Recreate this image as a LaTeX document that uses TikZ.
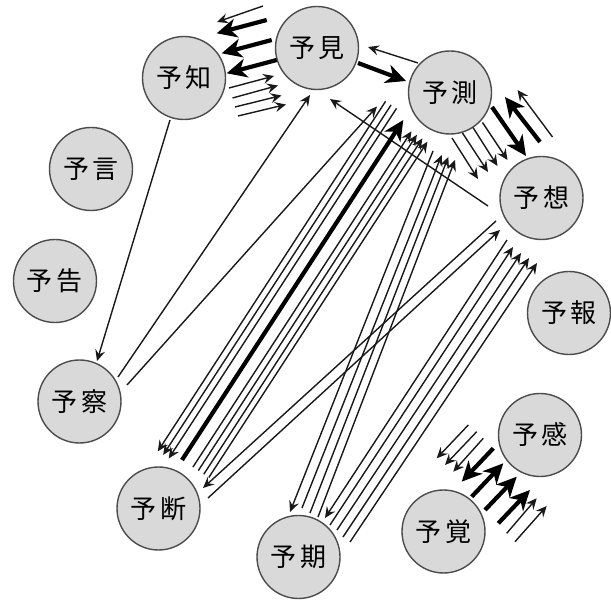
\documentclass[tikz,border=0pt]{standalone}
\usepackage{fontspec}
\newfontfamily\jp{Noto Sans CJK JP}
\usetikzlibrary{arrows.meta,calc}
\newcommand\edg[5][thinarr]{\draw[#1] ([shift={(#3)}]#2.center) -- ([shift={(#5)}]#4.center);}
\newcommand\yw[1]{予\kern4pt#1}
\begin{document}
\begin{tikzpicture}[x=1pt,y=-1pt,
  word/.style={circle,draw=black!70,line width=1.4pt,fill=black!15,minimum size=83pt,inner sep=0pt,font=\jp\fontsize{26}{28}\selectfont},
  thinarr/.style={draw=black!90,line width=1.4pt,-{Stealth[length=11pt,width=10pt,inset=4pt]}},
  thickarr/.style={draw=black,line width=4.2pt,-{Stealth[length=20pt,width=19pt,inset=6pt]}}]
\useasboundingbox (0,0) rectangle (611,601);
\node[word] (M) at (317,48) {\yw{見}};
\node[word] (C) at (184,78) {\yw{知}};
\node[word] (S) at (450,92.5) {\yw{測}};
\node[word] (G) at (91,169) {\yw{言}};
\node[word] (O) at (541.5,198) {\yw{想}};
\node[word] (K) at (55,281) {\yw{告}};
\node[word] (H) at (569,313) {\yw{報}};
\node[word] (Z) at (79.5,401.5) {\yw{察}};
\node[word] (N) at (540,435) {\yw{感}};
\node[word] (D) at (158.5,508.5) {\yw{断}};
\node[word] (A) at (443.5,531.5) {\yw{覚}};
\node[word] (Q) at (298.5,557) {\yw{期}};
% 見-知
\edg{M}{-54,-42}{C}{33,-56}
\edg[thickarr]{M}{-50.3,-28}{C}{32.7,-44.7}
\edg[thickarr]{M}{-45.3,-8}{C}{37.7,-24.7}
\edg[thickarr]{M}{-40.3,12}{C}{42.7,-4.7}
\edg{C}{45,10}{M}{-43,28}
\edg{C}{48.5,20}{M}{-39,37.5}
\edg{C}{51,29}{M}{-35.5,47.5}
\edg{C}{54,38}{M}{-31,56.5}
% 見-測
\edg[thickarr]{M}{41,15}{S}{-44,-11.5}
\edg{S}{-32,-29.5}{M}{51,-1}
% 測-想
\edg{S}{2,45.5}{O}{-63.5,-19}
\edg{S}{12.5,40.5}{O}{-53.5,-26}
\edg{S}{23,35}{O}{-44,-32}
\edg{S}{32.5,30}{O}{-34,-38}
\edg[thickarr]{S}{42,14.5}{O}{-15.5,-42}
\edg[thickarr]{O}{-1.5,-56}{S}{55,4.5}
\edg{O}{11,-61}{S}{67.5,-2.5}
% 想-見
\edg{O}{-53.5,8}{M}{13,51}
% 知-察
\edg{C}{-14,42}{Z}{17.5,-40.5}
% 察-見, 察-測
\edg{Z}{38.5,-24.5}{M}{-7,47}
\edg{Z}{47.5,-16.5}{S}{-73,14}
% 断-測
\edg{S}{-64.4,8.8}{D}{-0.7,-57.1}
\edg{S}{-58.9,12.4}{D}{4.7,-53.6}
\edg{S}{-53.5,15.9}{D}{10.2,-50}
\edg[thickarr]{D}{23.5,-48.5}{S}{-46.7,27.5}
\edg{D}{34.4,-41.4}{S}{-38.5,38.8}
\edg{D}{39.8,-37.9}{S}{-33.1,42.3}
\edg{D}{45.3,-34.3}{S}{-27.6,45.9}
\edg{D}{50.3,-31}{S}{-22.6,49.2}
% 期-測
\edg{S}{-17,58.5}{Q}{-8.5,-45}
\edg{Q}{3.5,-49}{S}{-8.3,62.5}
\edg{Q}{11.5,-44}{S}{-1.7,64.5}
\edg{Q}{19.5,-40}{S}{5,67.5}
% 期-想
\edg{O}{-34.5,42}{Q}{26.5,-39}
\edg{Q}{31.5,-32}{O}{-28.5,49}
\edg{Q}{38.5,-27}{O}{-20.5,55}
\edg{Q}{44.5,-20}{O}{-12.5,60}
\edg{Q}{51.5,-15}{O}{-4.5,65}
% 断-想
\edg{D}{49.5,-10.5}{O}{-41.5,32}
\edg{O}{-45.5,23}{D}{44.5,-20.5}
% 覚-感
\edg{N}{-71.7,-10}{A}{-6.8,-73.2}
\edg{N}{-63.3,-3.3}{A}{1.5,-66.5}
\edg{N}{-56.7,3.3}{A}{9.8,-59.8}
\edg[thickarr]{N}{-46.7,13.3}{A}{18.2,-49.8}
\edg[thickarr]{A}{28.2,-34.8}{N}{-36.7,28.3}
\edg[thickarr]{A}{41.5,-21.5}{N}{-23.3,41.7}
\edg[thickarr]{A}{54.8,-8.2}{N}{-10,55}
\edg{A}{63.2,1.8}{N}{-3.3,63.3}
\edg{A}{71.5,10.2}{N}{6.7,71}
\end{tikzpicture}
\end{document}
